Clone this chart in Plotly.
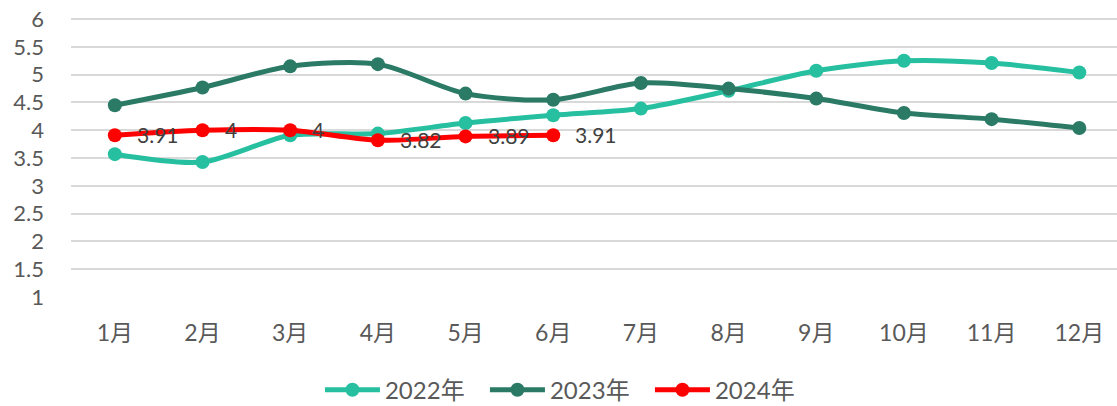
import plotly.graph_objects as go

months = ["1月", "2月", "3月", "4月", "5月", "6月", "7月", "8月", "9月", "10月", "11月", "12月"]
y2022 = [3.57, 3.43, 3.91, 3.94, 4.13, 4.27, 4.39, 4.71, 5.07, 5.25, 5.21, 5.04]
y2023 = [4.45, 4.77, 5.15, 5.19, 4.66, 4.55, 4.85, 4.75, 4.57, 4.31, 4.20, 4.04]
y2024 = [3.91, 4, 4, 3.82, 3.89, 3.91]
labels2024 = ["3.91", "4", "4", "3.82", "3.89", "3.91"]

FONT = "Lato, 'Noto Sans CJK SC', sans-serif"

fig = go.Figure()
fig.add_trace(go.Scatter(
    x=months, y=y2022, name="2022年", mode="lines+markers",
    line=dict(color="#26BFA0", width=5, shape="spline", smoothing=0.8),
    marker=dict(size=14, color="#26BFA0"),
))
fig.add_trace(go.Scatter(
    x=months, y=y2023, name="2023年", mode="lines+markers",
    line=dict(color="#2A7A66", width=5, shape="spline", smoothing=0.8),
    marker=dict(size=14, color="#2A7A66"),
))
fig.add_trace(go.Scatter(
    x=months[:len(y2024)], y=y2024, name="2024年", mode="lines+markers",
    line=dict(color="#FF0000", width=5, shape="spline", smoothing=0.8),
    marker=dict(size=14, color="#FF0000"),
))

for m, v, t in zip(months, y2024, labels2024):
    fig.add_annotation(x=m, y=v, text=t, showarrow=False, xanchor="left", yanchor="middle",
                       xshift=20, yshift=1,
                       font=dict(size=21, color="#404040", family=FONT))

fig.update_layout(
    width=1117, height=406,
    margin=dict(l=71, r=0, t=18, b=109, autoexpand=False),
    paper_bgcolor="white", plot_bgcolor="white",
    font=dict(family=FONT, color="#595959", size=22),
    showlegend=True,
    legend=dict(orientation="h", x=0.238, xanchor="left", y=-0.334, yanchor="middle",
                font=dict(size=24, color="#595959"), itemwidth=55,
                entrywidth=95, entrywidthmode="pixels",
                traceorder="normal"),
)
fig.update_xaxes(
    range=[-0.5, 11.43], showgrid=False, zeroline=False, showline=False, automargin=False,
    ticks="", ticklabelstandoff=20, tickfont=dict(size=23, color="#595959"),
)
fig.update_yaxes(
    range=[1, 6.02], tickvals=[1, 1.5, 2, 2.5, 3, 3.5, 4, 4.5, 5, 5.5, 6],
    showgrid=True, gridcolor="#D9D9D9", gridwidth=1.5,
    zeroline=False, showline=False, ticks="", ticklabelstandoff=26, automargin=False,
    ticklabeloverflow="allow",
    tickfont=dict(size=22, color="#595959"),
)

fig.write_html("out.html", config={"displayModeBar": False},
               post_script="document.body.style.margin='0px';document.body.style.overflow='hidden';")
